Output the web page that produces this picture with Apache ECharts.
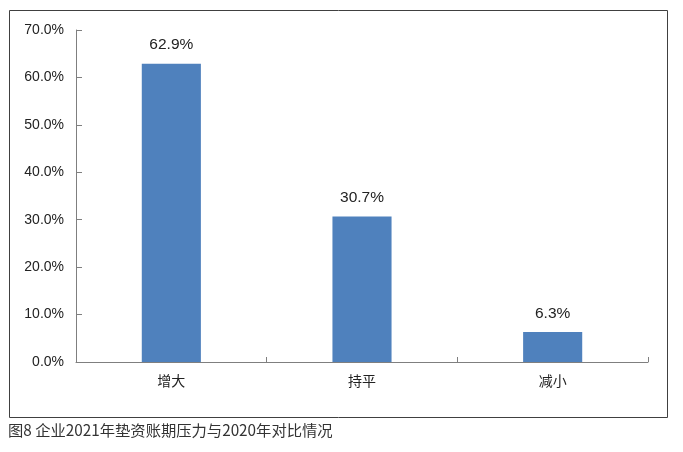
<!DOCTYPE html>
<html>
<head>
<meta charset="utf-8">
<script src="https://cdn.jsdelivr.net/npm/echarts@6/dist/echarts.min.js"></script>
<style>
html,body{margin:0;padding:0;background:#fff;}
#c{width:683px;height:452px;}
</style>
</head>
<body>
<div id="c"></div>
<script>
const categories = ['增大', '持平', '减小'];
const values = [62.9, 30.7, 6.3];
const yTicks = [0, 10, 20, 30, 40, 50, 60, 70];
const caption = '图8 企业2021年垫资账期压力与2020年对比情况';

const chart = echarts.init(document.getElementById('c'));
chart.setOption({
  animation: false,
  backgroundColor: '#fff',
  textStyle: { fontFamily: '"Liberation Sans", "Noto Sans CJK SC", sans-serif' },
  graphic: [
    { type: 'rect', shape: { x: 9.5, y: 10.5, width: 658, height: 407 },
      style: { fill: 'none', stroke: '#404040', lineWidth: 1 } },
    { type: 'text', left: 8, top: 423,
      style: { text: caption, fill: '#333', font: '15.3px "Noto Sans CJK SC", sans-serif' } }
  ],
  grid: { left: 76, right: 35, top: 30, bottom: 90, containLabel: false },
  xAxis: {
    type: 'category',
    data: categories,
    boundaryGap: true,
    axisLine: { lineStyle: { color: '#7f7f7f', width: 1 } },
    axisTick: { show: true, inside: true, length: 5, lineStyle: { color: '#7f7f7f' } },
    axisLabel: { color: '#222', fontSize: 14, margin: 12, fontFamily: '"Noto Sans CJK SC", sans-serif' }
  },
  yAxis: {
    type: 'value',
    min: yTicks[0],
    max: yTicks[yTicks.length - 1],
    interval: 10,
    splitLine: { show: false },
    axisLine: { show: true, lineStyle: { color: '#7f7f7f', width: 1 } },
    axisTick: { show: true, inside: true, length: 6, lineStyle: { color: '#7f7f7f' } },
    axisLabel: { color: '#222', fontSize: 14, margin: 12,
      formatter: v => v.toFixed(1) + '%' }
  },
  series: [{
    type: 'bar',
    data: values,
    barWidth: '31%',
    itemStyle: { color: '#4F81BD' },
    label: { show: true, position: 'top', distance: 11, color: '#222', fontSize: 15.5,
      formatter: p => p.value.toFixed(1) + '%' }
  }]
});
</script>
</body>
</html>
